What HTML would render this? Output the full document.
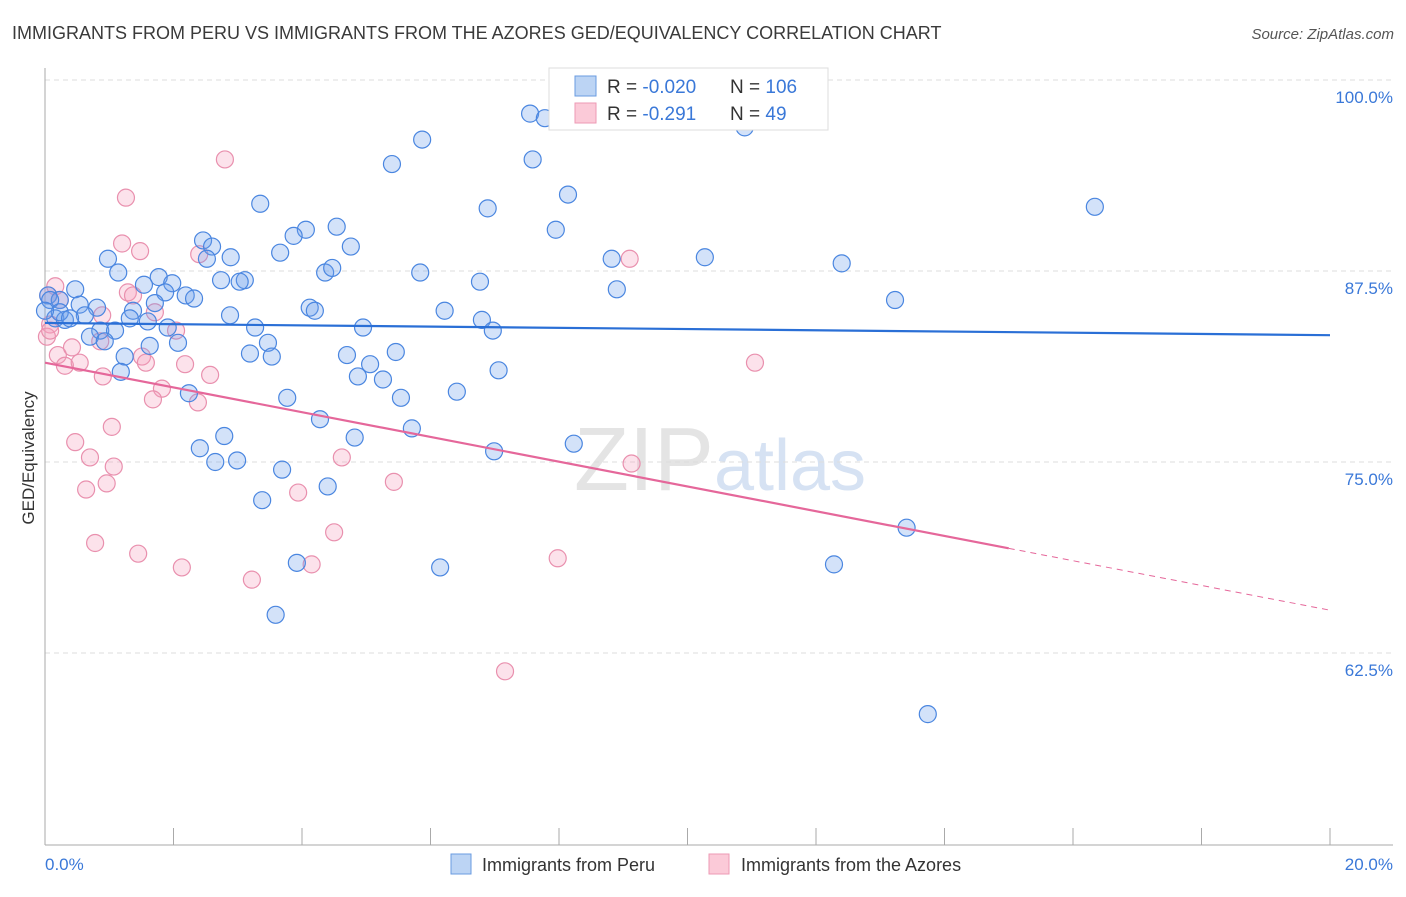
<!DOCTYPE html>
<html><head><meta charset="utf-8"><style>
body{margin:0;background:#fff;font-family:"Liberation Sans",sans-serif}
svg text{font-family:"Liberation Sans",sans-serif}
</style></head><body>
<svg id="chart" width="1406" height="892" xmlns="http://www.w3.org/2000/svg">
<text x="12" y="39" font-size="18" fill="#3a3a3a">IMMIGRANTS FROM PERU VS IMMIGRANTS FROM THE AZORES GED/EQUIVALENCY CORRELATION CHART</text>
<text x="1394" y="39" font-size="15" fill="#555" font-style="italic" text-anchor="end">Source: ZipAtlas.com</text>
<text x="720" y="490" font-size="90" fill="#e4e4e4" text-anchor="middle" font-family="Liberation Serif"><tspan>ZIP</tspan><tspan fill="#d6e2f3" font-family="Liberation Sans" font-size="72">atlas</tspan></text>
<g id="grid"></g><g id="axes"></g><g id="pts"></g><g id="lines"></g>
<text transform="translate(34,458) rotate(-90)" font-size="17" fill="#333" text-anchor="middle">GED/Equivalency</text>
<text x="45" y="870" font-size="17" fill="#3a78d8">0.0%</text>
<text x="1393" y="870" font-size="17" fill="#3a78d8" text-anchor="end">20.0%</text>
<g>
<rect x="549" y="68" width="279" height="62" fill="#fff" stroke="#ddd"/>
<rect x="575" y="76" width="21" height="20" fill="#bcd4f4" stroke="#6a9be0"/>
<rect x="575" y="103" width="21" height="20" fill="#fbcad8" stroke="#ee9ab4"/>
<text x="607" y="93" font-size="19" fill="#333">R = <tspan fill="#3a78d8">-0.020</tspan><tspan x="730">N = </tspan><tspan fill="#3a78d8">106</tspan></text>
<text x="607" y="120" font-size="19" fill="#333">R = <tspan fill="#3a78d8"> -0.291</tspan><tspan x="730">N = </tspan><tspan fill="#3a78d8">  49</tspan></text>
</g>
<g>
<rect x="451" y="854" width="20" height="20" fill="#bcd4f4" stroke="#6a9be0"/>
<text x="482" y="871" font-size="18" fill="#333">Immigrants from Peru</text>
<rect x="709" y="854" width="20" height="20" fill="#fbcad8" stroke="#ee9ab4"/>
<text x="741" y="871" font-size="18" fill="#333">Immigrants from the Azores</text>
</g>
</svg>
<script>
const yTicks=[100,87.5,75,62.5];
const xTickVals=[0,2,4,6,8,10,12,14,16,18,20];
const peruX=[7.55,7.78,9.52,10.89,5.87,5.40,7.59,8.14,3.35,6.89,16.34,4.54,4.06,3.87,7.95,2.46,2.60,4.76,0.98,2.52,2.89,3.66,8.82,10.27,12.40,1.14,1.77,1.98,2.74,3.11,3.03,4.36,4.47,5.84,6.77,1.54,1.87,2.19,2.32,8.90,13.23,0.47,0.05,0.23,0.54,0.81,1.37,1.71,2.88,4.12,4.20,6.22,6.80,1.32,1.60,1.91,3.27,4.95,6.97,0.86,1.09,0.70,0.93,2.07,1.63,3.47,1.24,3.19,3.53,4.70,5.06,5.46,1.18,4.87,5.26,7.06,6.41,2.24,3.77,5.54,4.28,5.71,4.82,2.79,8.23,2.41,6.99,2.65,2.99,3.69,4.40,3.38,13.41,3.92,6.15,12.28,3.59,13.74,0.08,0.16,0.31,0.62,0.23,0.39,0.0];
const peruY=[97.8,97.5,98.0,96.9,96.1,94.5,94.8,92.5,91.9,91.6,91.7,90.4,90.2,89.8,90.2,89.5,89.1,89.1,88.3,88.3,88.4,88.7,88.3,88.4,88.0,87.4,87.1,86.7,86.9,86.9,86.8,87.4,87.7,87.4,86.8,86.6,86.1,85.9,85.7,86.3,85.6,86.3,85.9,85.6,85.3,85.1,84.9,85.4,84.6,85.1,84.9,84.9,84.3,84.4,84.2,83.8,83.8,83.8,83.6,83.6,83.6,83.2,82.9,82.8,82.6,82.8,81.9,82.1,81.9,82.0,81.4,82.2,80.9,80.6,80.4,81.0,79.6,79.5,79.2,79.2,77.8,77.2,76.6,76.7,76.2,75.9,75.7,75.0,75.1,74.5,73.4,72.5,70.7,68.4,68.1,68.3,65.0,58.5,85.6,84.4,84.3,84.6,84.8,84.4,84.9];
const azoresX=[2.80,1.26,1.20,1.48,2.40,9.10,0.16,0.05,1.29,1.37,0.23,0.89,1.71,2.04,0.08,0.03,0.86,0.20,0.42,0.31,0.54,1.51,1.57,2.18,2.57,0.90,1.82,1.68,2.38,11.05,0.47,1.04,0.70,1.07,4.62,0.64,0.96,5.43,3.94,9.13,0.78,4.50,1.45,2.13,4.15,3.22,7.98,7.16,0.08];
const azoresY=[94.8,92.3,89.3,88.8,88.6,88.3,86.5,85.9,86.1,85.9,85.6,84.6,84.8,83.6,84.0,83.2,82.9,82.0,82.5,81.3,81.5,81.9,81.5,81.4,80.7,80.6,79.8,79.1,78.9,81.5,76.3,77.3,75.3,74.7,75.3,73.2,73.6,73.7,73.0,74.9,69.7,70.4,69.0,68.1,68.3,67.3,68.7,61.3,83.6];
const peruTrend=[84.1,83.3];
const azoresTrend=[81.5,65.3];
const azoresSolidEnd=15.0;

const NS="http://www.w3.org/2000/svg";
const X=v=>45+v/20*1285;
const Y=v=>80+(100-v)/12.5*191;
function mk(tag,attrs,parent){const e=document.createElementNS(NS,tag);for(const k in attrs)e.setAttribute(k,attrs[k]);document.getElementById(parent).appendChild(e);return e;}
yTicks.forEach(t=>{
  const l=mk('line',{x1:45,x2:1393,y1:Y(t),y2:Y(t),stroke:'#ddd','stroke-dasharray':'5,4'},'grid');
  
  
  const tx=mk('text',{x:1393,y:Y(t)+23,'font-size':17,fill:'#3a78d8','text-anchor':'end'},'grid');
  tx.textContent=t.toFixed(1)+'%';
  
  
});
const ya=mk('line',{x1:45,x2:45,y1:68,y2:845,stroke:'#aaa'},'axes');


const xa=mk('line',{x1:45,x2:1393,y1:845,y2:845,stroke:'#aaa'},'axes');


xTickVals.forEach(t=>{
  const l=mk('line',{x1:X(t),x2:X(t),y1:828,y2:845,stroke:'#aaa'},'axes');
  
  
});
function pts(xs,ys,fill,stroke,name){
  xs.forEach((x,i)=>{
    const c=mk('circle',{cx:X(x),cy:Y(ys[i]),r:8.5,fill:fill,stroke:stroke,'stroke-width':1.2},'pts');
    
    
  });
}
pts(azoresX,azoresY,'rgba(244,160,188,0.3)','#e990ae','azores-point');
pts(peruX,peruY,'rgba(110,160,235,0.3)','#4a86e0','peru-point');
const pl=mk('line',{x1:X(0),y1:Y(peruTrend[0]),x2:X(20),y2:Y(peruTrend[1]),stroke:'#2a6fd6','stroke-width':2.2},'lines');


const ay=x=>azoresTrend[0]+(azoresTrend[1]-azoresTrend[0])*x/20;
const al=mk('line',{x1:X(0),y1:Y(ay(0)),x2:X(azoresSolidEnd),y2:Y(ay(azoresSolidEnd)),stroke:'#e5679a','stroke-width':2.2},'lines');


const ad=mk('line',{x1:X(azoresSolidEnd),y1:Y(ay(azoresSolidEnd)),x2:X(20),y2:Y(ay(20)),stroke:'#e5679a','stroke-width':1,'stroke-dasharray':'6,5'},'lines');


</script>
</body></html>
